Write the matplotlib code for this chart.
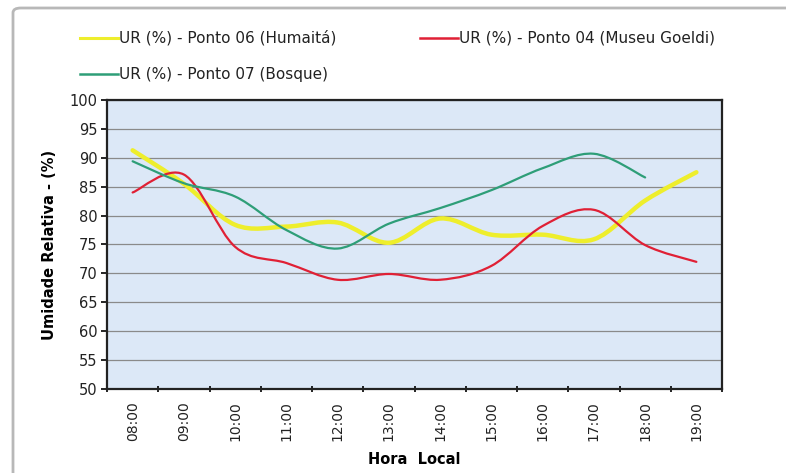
import matplotlib
matplotlib.use("Agg")
import matplotlib.pyplot as plt
import numpy as np
from matplotlib.path import Path
from matplotlib.patches import PathPatch, FancyBboxPatch
from matplotlib.lines import Line2D

plt.rcParams['font.family'] = ['DejaVu Sans']

hours = ["08:00", "09:00", "10:00", "11:00", "12:00", "13:00",
         "14:00", "15:00", "16:00", "17:00", "18:00", "19:00"]
ur_humaita = [91.3, 85.5, 78.4, 78.1, 78.8, 75.3, 79.5, 76.7, 76.7, 75.9, 82.6, 87.5]
ur_goeldi = [84.0, 87.1, 74.6, 71.8, 68.9, 69.9, 68.9, 71.3, 78.2, 81.0, 74.9, 72.0]
ur_bosque = [89.4, 85.6, 83.3, 77.5, 74.3, 78.6, 81.3, 84.4, 88.2, 90.7, 86.6]

labels = ["UR (%) - Ponto 06 (Humaitá)",
          "UR (%) - Ponto 04 (Museu Goeldi)",
          "UR (%) - Ponto 07 (Bosque)"]
colors = ["#eeee2c", "#e02035", "#2e9e78"]
widths = [3.2, 1.6, 1.6]


def smooth_path(xs, ys):
    pts = np.column_stack([xs, ys]).astype(float)
    n = len(pts)
    verts = [tuple(pts[0])]
    codes = [Path.MOVETO]
    for i in range(n - 1):
        p0 = pts[i - 1] if i > 0 else pts[i]
        p1 = pts[i]
        p2 = pts[i + 1]
        p3 = pts[i + 2] if i + 2 < n else pts[i + 1]
        c1 = p1 + (p2 - p0) / 6.0
        c2 = p2 - (p3 - p1) / 6.0
        verts += [tuple(c1), tuple(c2), tuple(p2)]
        codes += [Path.CURVE4] * 3
    return Path(verts, codes)


fig = plt.figure(figsize=(7.86, 4.73), dpi=100)
fig.patch.set_facecolor("white")

# chart border
border = FancyBboxPatch((13 / 786, -0.2), 1.2, 1.2 - 8 / 473,
                        boxstyle="round,pad=0,rounding_size=0.01",
                        transform=fig.transFigure, facecolor="none",
                        edgecolor="#b8b8b8", linewidth=2.0, zorder=0)
fig.add_artist(border)

ax = fig.add_axes([107 / 786, (473 - 389) / 473, (722 - 107) / 786, (389 - 100) / 473])
ax.set_facecolor("#dce8f7")

series = [ur_humaita, ur_goeldi, ur_bosque]
for vals, c, w in zip(series, colors, widths):
    xs = np.arange(len(vals))
    patch = PathPatch(smooth_path(xs, vals), facecolor="none", edgecolor=c,
                      linewidth=w, capstyle="round", joinstyle="round", zorder=3)
    ax.add_patch(patch)

ax.set_xlim(-0.5, len(hours) - 0.5)
ax.set_ylim(50, 100)
ax.set_yticks(np.arange(50, 101, 5))
ax.set_xticks(np.arange(len(hours)))
ax.set_xticklabels(hours, rotation=90, fontsize=10, color="#222222")
ax.set_xticks(np.arange(-0.5, len(hours), 1.0), minor=True)
ax.tick_params(axis="x", which="major", length=0, pad=9)
ax.tick_params(axis="x", which="minor", length=4, direction="inout", width=1.2)
ax.tick_params(axis="y", length=4, direction="out", width=1.2, labelsize=10.5,
               labelcolor="#222222", pad=3)
ax.yaxis.grid(True, color="#8a8a8a", linewidth=0.9)
ax.set_axisbelow(True)
for s in ax.spines.values():
    s.set_color("#222222")
    s.set_linewidth(1.6)

ax.set_ylabel("Umidade Relativa - (%)", fontsize=10.5, fontweight="bold", labelpad=9)
ax.set_xlabel("Hora  Local", fontsize=10.5, fontweight="bold", labelpad=8)

# legend (manual placement)
leg_items = [(80, 38, 0), (420, 38, 1), (80, 74, 2)]
for (lx, ly, k) in leg_items:
    yf = 1 - ly / 473
    fig.add_artist(Line2D([lx / 786, (lx + 38) / 786], [yf, yf],
                          color=colors[k], linewidth=2.2 if k == 0 else 1.8,
                          transform=fig.transFigure))
    fig.text((lx + 39) / 786, yf, labels[k], fontsize=11, va="center",
             ha="left", color="#222222")

fig.savefig("out.png", dpi=100)
